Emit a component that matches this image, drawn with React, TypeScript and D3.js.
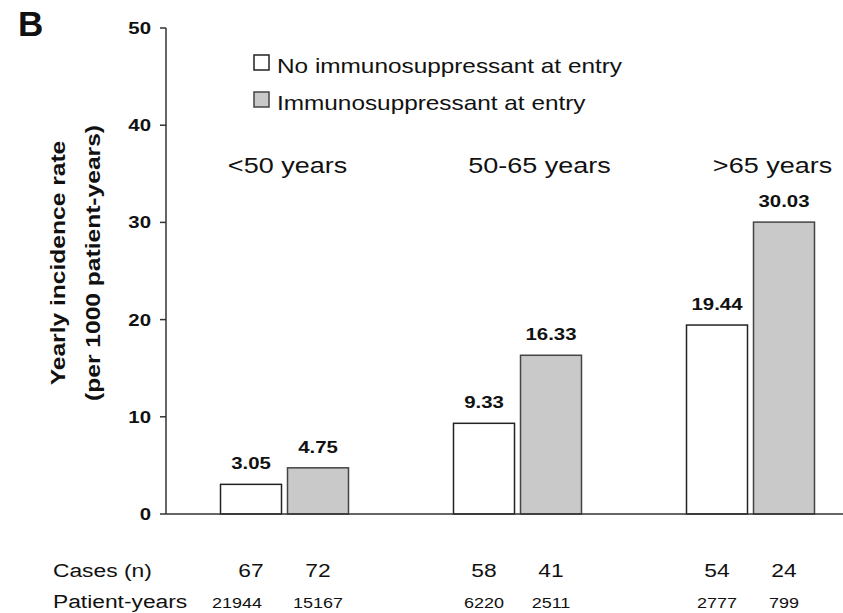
import { useRef, useEffect } from "react";
import * as d3 from "d3";

const groups = ["<50 years", "50-65 years", ">65 years"];
const seriesNames = ["No immunosuppressant at entry", "Immunosuppressant at entry"];
const noImmuno = [3.05, 9.33, 19.44];
const immuno = [4.75, 16.33, 30.03];
const casesNo = [67, 58, 54];
const casesImm = [72, 41, 24];
const patientYearsNo = [21944, 6220, 2777];
const patientYearsImm = [15167, 2511, 799];
const yTicks = [0, 10, 20, 30, 40, 50];

const W = 843;
const H = 613;
const SX = 1.2; // the source font is wider than Arial
const FONT = "'Liberation Sans', Arial, Helvetica, sans-serif";
const fills = ["#ffffff", "#c9c9c9"];
const strokes = ["#222", "#444"];
const labelNudge = [3, 22, 22];

const App = () => {
  const ref = useRef<HTMLDivElement>(null);

  useEffect(() => {
    const svg = d3
      .select(ref.current)
      .html("")
      .append("svg")
      .attr("width", W)
      .attr("height", H)
      .style("display", "block")
      .style("font-family", FONT);

    svg.append("rect").attr("width", W).attr("height", H).attr("fill", "#fff");

    const x0 = d3.scaleBand().domain(groups).range([168, 867]).padding(0);
    const x1 = d3.scaleBand<number>().domain([0, 1]).range([0, 128]).paddingInner(6 / 67);
    const off = (x0.bandwidth() - 128) / 2;
    const y = d3.scaleLinear().domain([0, 50]).range([514, 28]);
    const axisX = 166;

    const txt = (
      g: any,
      x: number,
      yy: number,
      s: string,
      size: number,
      anchor = "middle",
      weight = "normal",
      extra = ""
    ) =>
      g
        .append("text")
        .attr("transform", `translate(${x},${yy}) ${extra} scale(${SX},1)`)
        .attr("text-anchor", anchor)
        .attr("font-size", size)
        .attr("font-weight", weight)
        .attr("fill", "#111")
        .text(s);

    // panel letter
    svg
      .append("text")
      .attr("x", 18)
      .attr("y", 36)
      .attr("font-size", 35)
      .attr("font-weight", "bold")
      .attr("fill", "#111")
      .text("B");

    // y axis
    svg
      .append("line")
      .attr("x1", axisX)
      .attr("x2", axisX)
      .attr("y1", y(50))
      .attr("y2", y(0))
      .attr("stroke", "#333")
      .attr("stroke-width", 1.5);
    yTicks.forEach((t) => {
      svg
        .append("line")
        .attr("x1", axisX - 6)
        .attr("x2", axisX)
        .attr("y1", y(t))
        .attr("y2", y(t))
        .attr("stroke", "#333")
        .attr("stroke-width", 1.5);
      txt(svg, 151, y(t) + 6, String(t), 17, "end", "bold");
    });

    // y title
    txt(svg, 65, 263, "Yearly incidence rate", 20.5, "middle", "bold", "rotate(-90)");
    txt(svg, 100, 263, "(per 1000 patient-years)", 20.5, "middle", "bold", "rotate(-90)");

    // bars
    const series = [noImmuno, immuno];
    series.forEach((vals, si) => {
      svg
        .append("g")
        .selectAll("rect")
        .data(vals)
        .enter()
        .append("rect")
        .attr("x", (d, i) => (x0(groups[i]) as number) + off + (x1(si) as number))
        .attr("y", (d) => y(d))
        .attr("width", x1.bandwidth())
        .attr("height", (d) => y(0) - y(d))
        .attr("fill", fills[si])
        .attr("stroke", strokes[si])
        .attr("stroke-width", 1.5);
      vals.forEach((v, i) => {
        const cx = (x0(groups[i]) as number) + off + (x1(si) as number) + x1.bandwidth() / 2;
        txt(svg, cx, y(v) - 15, v.toFixed(2), 17, "middle", "bold");
      });
    });

    // x axis line
    svg
      .append("line")
      .attr("x1", axisX)
      .attr("x2", W)
      .attr("y1", y(0))
      .attr("y2", y(0))
      .attr("stroke", "#333")
      .attr("stroke-width", 1.5);

    // group labels
    groups.forEach((g, i) => {
      txt(svg, (x0(g) as number) + x0.bandwidth() / 2 + labelNudge[i], 173, g, 22.5);
    });

    // legend
    seriesNames.forEach((name, si) => {
      const ly = 55 + si * 37;
      svg
        .append("rect")
        .attr("x", 254)
        .attr("y", ly)
        .attr("width", 15)
        .attr("height", 15)
        .attr("fill", fills[si])
        .attr("stroke", strokes[si])
        .attr("stroke-width", 1.5);
      txt(svg, 277, ly + 18, name, 20.3, "start");
    });

    // counts table
    txt(svg, 53, 577, "Cases (n)", 19, "start");
    txt(svg, 53, 608, "Patient-years", 19, "start");
    const rows = [
      [casesNo, casesImm],
      [patientYearsNo, patientYearsImm],
    ];
    rows.forEach((row, ri) => {
      row.forEach((vals, si) => {
        vals.forEach((v, i) => {
          const cx = (x0(groups[i]) as number) + off + (x1(si) as number) + x1.bandwidth() / 2;
          // first patient-years figure sits a little left in the source
          const nudge = ri === 1 && si === 0 && i === 0 ? -14 : 0;
          txt(svg, cx + nudge, ri === 0 ? 577 : 608, String(v), ri === 0 ? 19 : 15);
        });
      });
    });
  }, []);

  return <div ref={ref} style={{ position: "absolute", left: 0, top: 0 }} />;
};

export default App;
